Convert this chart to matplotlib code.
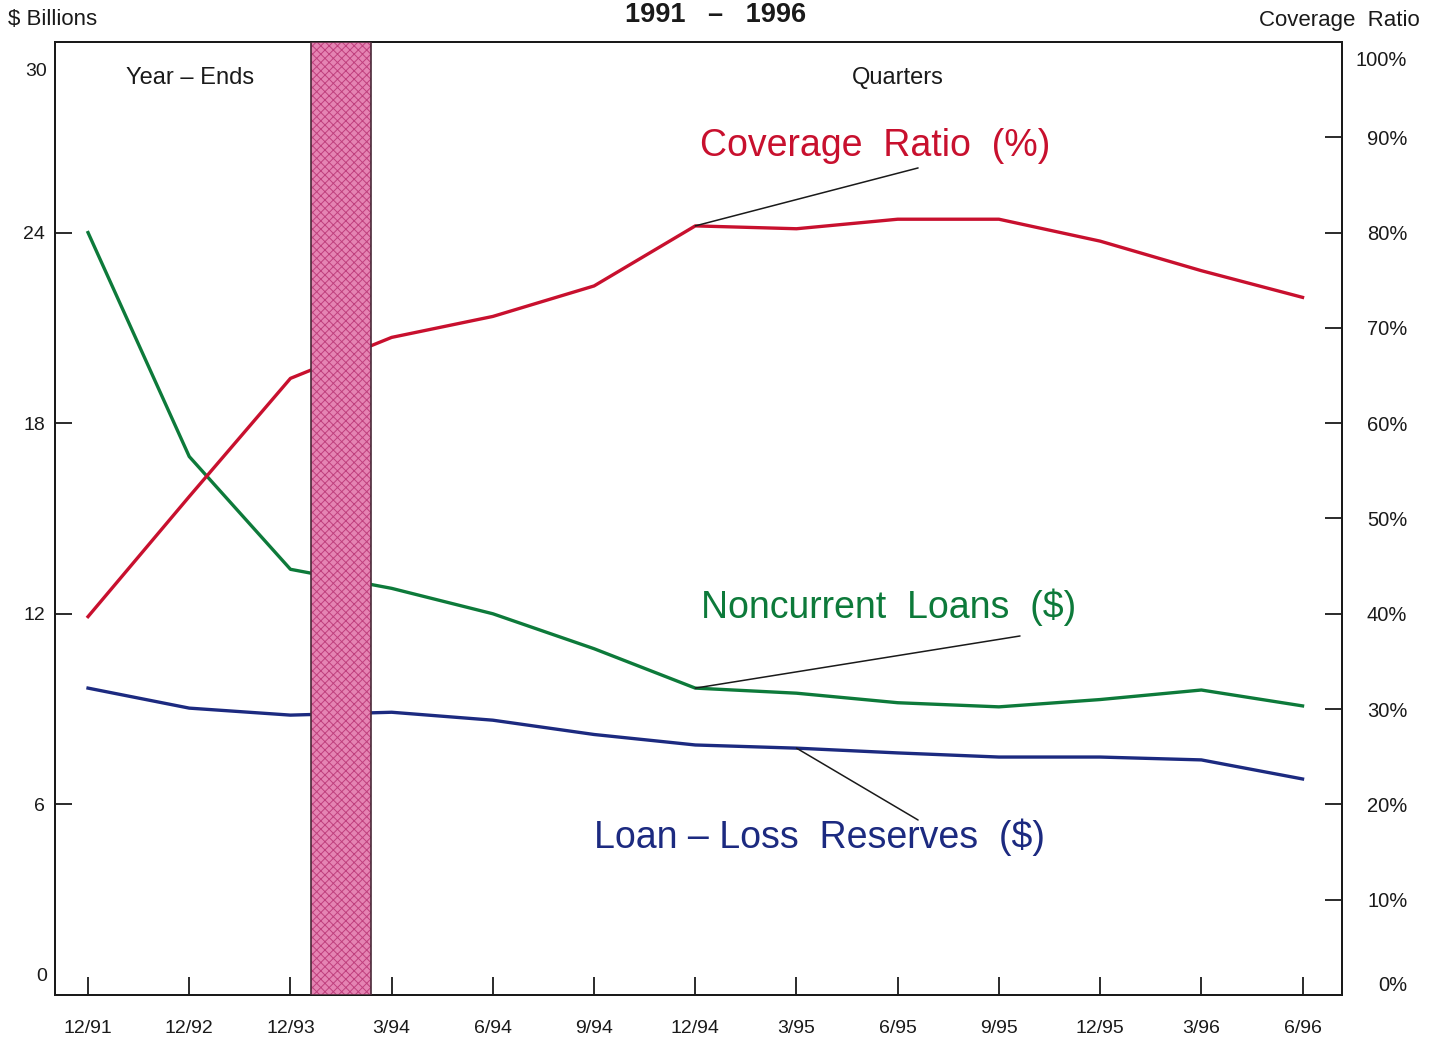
import matplotlib.pyplot as plt

plt.rcParams['font.family'] = ['Liberation Sans', 'DejaVu Sans']
plt.rcParams['hatch.linewidth'] = 0.7

periods = ['12/91', '12/92', '12/93', '3/94', '6/94', '9/94', '12/94',
           '3/95', '6/95', '9/95', '12/95', '3/96', '6/96']
# coverage ratio in percent (right axis)
coverage = [39.7, 52.3, 64.7, 69.0, 71.2, 74.4, 80.7,
            80.4, 81.4, 81.4, 79.1, 76.0, 73.2]
# $ billions (left axis)
noncurrent = [24.0, 16.95, 13.4, 12.8, 12.0, 10.9, 9.66,
              9.5, 9.2, 9.07, 9.3, 9.6, 9.1]
reserves = [9.66, 9.03, 8.81, 8.9, 8.65, 8.2, 7.87,
            7.77, 7.62, 7.49, 7.49, 7.4, 6.8]

left_ticks = [0, 6, 12, 18, 24, 30]
right_ticks = [0, 10, 20, 30, 40, 50, 60, 70, 80, 90, 100]

red = '#c8102e'
green = '#0d7a3a'
blue = '#1c2a80'
ink = '#1a1a1a'

fig = plt.figure(figsize=(14.37, 10.41), dpi=100)
ax = fig.add_axes([0.0383, 0.0442, 0.8956, 0.9155])
ax2 = ax.twinx()

x = list(range(len(periods)))

# dollar series on the left axis
ax.plot(x, noncurrent, color=green, lw=2.4, solid_joinstyle='round')
ax.plot(x, reserves, color=blue, lw=2.4, solid_joinstyle='round')
ax.set_ylim(0, 30)
ax.set_xlim(-0.326, 12.39)

# coverage ratio on the right axis
ax2.plot(x, coverage, color=red, lw=2.4, solid_joinstyle='round', zorder=2)
ax2.set_ylim(0, 100)

# shaded break between year-ends and quarters
ax2.axvspan(2.20, 2.80, facecolor='#e584b3', edgecolor='#c0407e',
            hatch='xxxx', lw=0, zorder=5)
ax2.axvspan(2.20, 2.80, fill=False, edgecolor='#4a2a38', lw=1.2, zorder=6)

for spine in list(ax.spines.values()) + list(ax2.spines.values()):
    spine.set_color(ink)
    spine.set_linewidth(1.4)

# x axis
ax.set_xticks(x)
ax.set_xticklabels(periods, fontsize=14, color=ink)
ax.tick_params(axis='x', direction='in', length=13, width=1.3,
               pad=18, colors=ink)

# left axis
ax.set_yticks(left_ticks)
ax.set_yticklabels(['' if v in (0, 30) else str(v) for v in left_ticks],
                   fontsize=14, color=ink)
ax.tick_params(axis='y', direction='in', length=12, width=1.3, pad=7,
               colors=ink)
for t in ax.yaxis.get_major_ticks():
    if t.get_loc() in (0, 30):
        t.tick1line.set_visible(False)
ax.annotate('30', xy=(0, 30), xycoords=ax.get_yaxis_transform(),
            xytext=(-6, -21), textcoords='offset points',
            ha='right', va='center', fontsize=14, color=ink)
ax.annotate('0', xy=(0, 0), xycoords=ax.get_yaxis_transform(),
            xytext=(-6, 13), textcoords='offset points',
            ha='right', va='center', fontsize=14, color=ink)

# right axis
ax2.set_yticks(right_ticks)
ax2.set_yticklabels(['' if v in (0, 100) else f'{v}%' for v in right_ticks],
                    fontsize=14.5, color=ink)
ax2.tick_params(axis='y', direction='in', length=12, width=1.3, pad=47,
                colors=ink)
for lab in ax2.get_yticklabels():
    lab.set_horizontalalignment('right')
for t in ax2.yaxis.get_major_ticks():
    if t.get_loc() in (0, 100):
        t.tick2line.set_visible(False)
ax2.annotate('100%', xy=(1, 100), xycoords=ax2.get_yaxis_transform(),
             xytext=(47, -13), textcoords='offset points',
             ha='right', va='center', fontsize=14.5, color=ink)
ax2.annotate('0%', xy=(1, 0), xycoords=ax2.get_yaxis_transform(),
             xytext=(47, 6.5), textcoords='offset points',
             ha='right', va='center', fontsize=14.5, color=ink)

# headers
fig.text(0.498, 0.986, '1991   \u2013   1996', ha='center', va='center',
         fontsize=19.5, fontweight='bold', color=ink)
fig.text(0.0056, 0.981, '$ Billions', ha='left', va='center',
         fontsize=16, color=ink)
fig.text(0.988, 0.980, 'Coverage  Ratio', ha='right', va='center',
         fontsize=16, color=ink)
ax.text(0.105, 0.962, 'Year \u2013 Ends', transform=ax.transAxes,
        ha='center', va='center', fontsize=17, color=ink)
ax.text(0.655, 0.962, 'Quarters', transform=ax.transAxes,
        ha='center', va='center', fontsize=17, color=ink)

# series labels with leader lines
ax2.text(0.637, 0.891, 'Coverage  Ratio  (%)', transform=ax.transAxes,
         ha='center', va='center', fontsize=27, color=red)
ax2.annotate('', xy=(6, coverage[6]), xycoords='data',
             xytext=(0.6706, 0.8678), textcoords=ax.transAxes,
             arrowprops=dict(arrowstyle='-', color=ink, lw=1.1,
                             shrinkA=0, shrinkB=0))

ax2.text(0.648, 0.407, 'Noncurrent  Loans  ($)', transform=ax.transAxes,
         ha='center', va='center', fontsize=27, color=green)
ax.annotate('', xy=(6, noncurrent[6]), xycoords='data',
            xytext=(0.7498, 0.3767), textcoords='axes fraction',
            arrowprops=dict(arrowstyle='-', color=ink, lw=1.1,
                            shrinkA=0, shrinkB=0))

ax2.text(0.594, 0.165, 'Loan \u2013 Loss  Reserves  ($)', transform=ax.transAxes,
         ha='center', va='center', fontsize=27, color=blue)
ax.annotate('', xy=(7, reserves[7]), xycoords='data',
            xytext=(0.6706, 0.1836), textcoords='axes fraction',
            arrowprops=dict(arrowstyle='-', color=ink, lw=1.1,
                            shrinkA=0, shrinkB=0))

plt.savefig('out.png', dpi=100)
plt.close()
